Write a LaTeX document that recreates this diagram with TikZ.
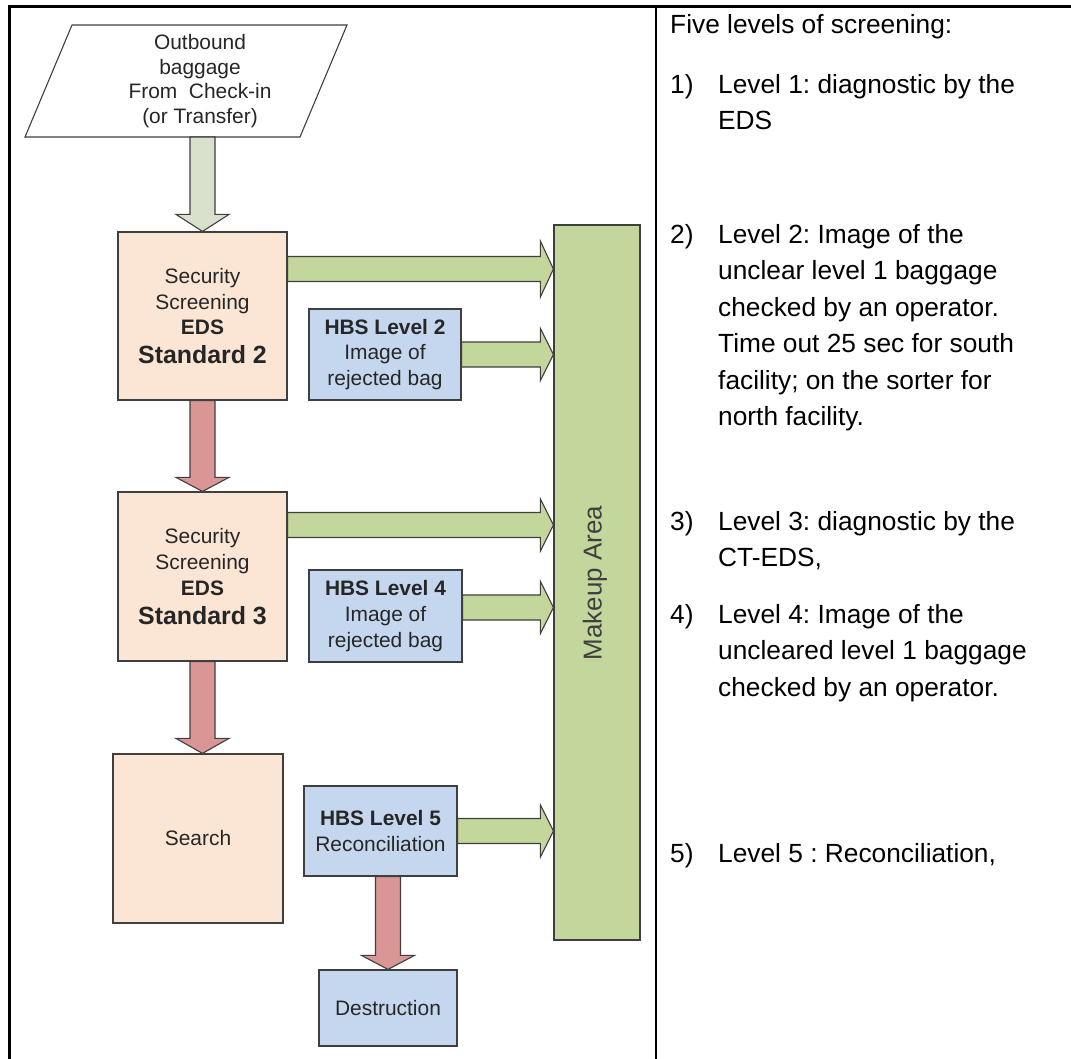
\documentclass[tikz,border=0pt]{standalone}
\usepackage{fontspec}
\setmainfont{Liberation Sans}
\usetikzlibrary{calc}
\frenchspacing
\definecolor{peach}{HTML}{FBE5D5}
\definecolor{hbsblue}{HTML}{C5D7EE}
\definecolor{mkgreen}{HTML}{C3D69B}
\definecolor{arrred}{HTML}{D99694}
\definecolor{arrgray}{HTML}{D9E1CC}
\definecolor{edgegray}{HTML}{3F3F3F}
\definecolor{txt}{HTML}{262626}
\tikzset{
  shapebox/.style={draw=edgegray, line width=1.2bp, inner sep=0pt, align=center, text=txt, font=\fontsize{21}{26}\selectfont},
  peachbox/.style={shapebox, fill=peach},
  bluebox/.style={shapebox, fill=hbsblue},
  blockline/.style={draw=edgegray, line width=1.1bp, line join=miter},
  frameline/.style={line width=2.5bp, draw=black},
  notes/.style={anchor=base west, inner sep=0pt, font=\fontsize{26.4}{36.7}\selectfont, text=black},
}
% horizontal block arrow: start, end, fill, head half height
\newcommand\blockH[4]{%
  \path[blockline, fill=#3] let \p1=#1, \p2=#2 in
    (\x1,\y1+12.5bp) -- (\x2-13bp,\y1+12.5bp) -- (\x2-13bp,\y1+#4) -- (\x2,\y1)
    -- (\x2-13bp,\y1-#4) -- (\x2-13bp,\y1-12.5bp) -- (\x1,\y1-12.5bp) -- cycle;}
% vertical (downward) block arrow: start, end, fill, head length
\newcommand\blockV[4]{%
  \path[blockline, fill=#3] let \p1=#1, \p2=#2 in
    (\x1-12.5bp,\y1) -- (\x1-12.5bp,\y2+#4) -- (\x1-26.5bp,\y2+#4) -- (\x1,\y2)
    -- (\x1+26.5bp,\y2+#4) -- (\x1+12.5bp,\y2+#4) -- (\x1+12.5bp,\y1) -- cycle;}
\newcommand\noteitem[2]{\begin{tabular}[t]{@{}p{48bp}@{}l@{}}#1&#2\end{tabular}}
\begin{document}
\begin{tikzpicture}[x=1bp,y=-1bp]
\useasboundingbox (0,0) rectangle (1071,1059);
% frame
\draw[frameline] (9.5,1059) -- (9.5,6.5) -- (1071,6.5);
\draw[frameline] (656,6.5) -- (656,1059);
% input parallelogram
\draw[draw=edgegray, line width=1.1bp, fill=white] (25,137) -- (72,25) -- (347,25) -- (300,137) -- cycle;
\node[inner sep=0pt, align=center, text=txt, font=\fontsize{21}{24.5}\selectfont] (inbag) at (200,81)
  {Outbound\\baggage\\From~~Check-in\\(or Transfer)};
\coordinate (inbagbottom) at (202.5,137);
% boxes
\node[peachbox, minimum width=169bp, minimum height=168bp] (eds2) at (202.5,316)
  {Security\\Screening\\\textbf{EDS}\\[3bp]{\fontsize{25}{26}\selectfont\bfseries Standard 2}};
\node[peachbox, minimum width=169bp, minimum height=169bp] (eds3) at (202.5,576.5)
  {Security\\Screening\\\textbf{EDS}\\[3bp]{\fontsize{25}{26}\selectfont\bfseries Standard 3}};
\node[peachbox, minimum width=170bp, minimum height=169bp] (search) at (198,838.5) {Search};
\node[bluebox, minimum width=152bp, minimum height=91bp] (hbs2) at (385,354.5)
  {\textbf{HBS Level 2}\\Image of\\rejected bag};
\node[bluebox, minimum width=153bp, minimum height=92bp] (hbs4) at (385.5,616)
  {\textbf{HBS Level 4}\\Image of\\rejected bag};
\node[bluebox, minimum width=153bp, minimum height=90bp] (hbs5) at (380.5,831)
  {\textbf{HBS Level 5}\\Reconciliation};
\node[bluebox, minimum width=138bp, minimum height=76bp] (destr) at (388,1008) {Destruction};
\node[draw=edgegray, line width=1.2bp, fill=mkgreen, minimum width=86bp, minimum height=715bp, inner sep=0pt] (makeup) at (597,582.5) {};
\node[rotate=90, inner sep=0pt, font=\fontsize{26}{26}\selectfont, text=edgegray] (mktext) at (595,583) {Makeup Area};
% connectors
\blockV{(inbagbottom)}{(eds2.north)}{arrgray}{17bp}
\blockV{(eds2.south)}{(eds3.north)}{arrred}{14bp}
\blockV{(eds3.south)}{(search.north)}{arrred}{15bp}
\blockV{(destr.north |- hbs5.south)}{(destr.north)}{arrred}{14bp}
\blockH{([yshift=47bp]eds2.east)}{(makeup.west)}{mkgreen}{28bp}
\blockH{(hbs2.east)}{(makeup.west)}{mkgreen}{26bp}
\blockH{([yshift=51.5bp]eds3.east)}{(makeup.west)}{mkgreen}{26bp}
\blockH{([yshift=8.5bp]hbs4.east)}{(makeup.west)}{mkgreen}{26bp}
\blockH{(hbs5.east)}{(makeup.west)}{mkgreen}{26bp}
% notes
\node[notes] (title) at (670,33) {Five levels of screening:};
\node[notes] (n1) at (670,93) {\noteitem{1)}{Level 1: diagnostic by the\\&EDS}};
\node[notes] (n2) at (670,243) {\noteitem{2)}{Level 2: Image of the\\&unclear level 1 baggage\\&checked by an operator.\\&Time out 25 sec for south\\&facility; on the sorter for\\&north facility.}};
\node[notes] (n3) at (670,530) {\noteitem{3)}{Level 3: diagnostic by the\\&CT-EDS,}};
\node[notes] (n4) at (670,623) {\noteitem{4)}{Level 4: Image of the\\&uncleared level 1 baggage\\&checked by an operator.}};
\node[notes] (n5) at (670,862) {\noteitem{5)}{Level 5 : Reconciliation,}};
\end{tikzpicture}
\end{document}
